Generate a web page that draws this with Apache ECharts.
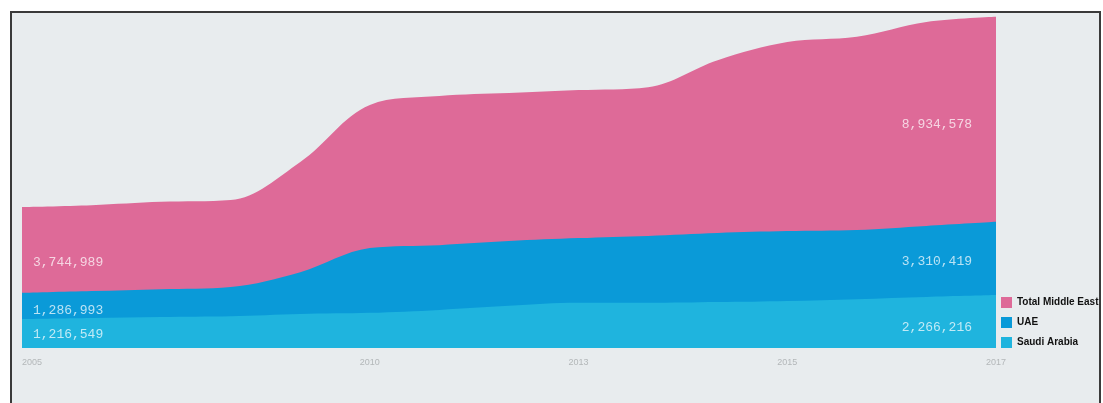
<!DOCTYPE html>
<html lang="en">
<head>
    <meta charset="UTF-8">
    <script src="https://cdn.jsdelivr.net/npm/echarts@6/dist/echarts.min.js"></script>
    <style>
        body { margin: 0; background: #fff; }
        #frame {
            position: absolute; left: 10px; top: 11px; width: 1087px; height: 400px;
            border: 2px solid #3a3a3a; border-bottom: none; background: #e8ecee;
        }
        #chart { position: absolute; left: 0; top: 0; width: 1103px; height: 403px; }
    </style>
</head>
<body>
<div id="frame"></div>
<div id="chart"></div>
<script>
    // x slots (label only on some of them)
    var slots = ['0', '1', '2', '3', '4', '5', '6', '7', '8', '9', '10', '11', '12', '13', '14'];
    var tickLabels = {0: '2005', 5: '2010', 8: '2013', 11: '2015', 14: '2017'};

    // millions (top edge of each coloured band)
    var totalME = [3.81, 3.86, 3.95, 4.00, 5.03, 6.57, 6.81, 6.89, 6.97, 7.05, 7.78, 8.27, 8.41, 8.81, 8.95];
    var uae = [1.49, 1.54, 1.59, 1.65, 2.05, 2.70, 2.78, 2.89, 2.97, 3.03, 3.11, 3.16, 3.19, 3.30, 3.41];
    var saudi = [0.78, 0.81, 0.84, 0.86, 0.92, 0.95, 1.03, 1.14, 1.22, 1.22, 1.24, 1.27, 1.32, 1.38, 1.43];

    var startLabels = ['3,744,989', '1,286,993', '1,216,549'];
    var endLabels = ['8,934,578', '3,310,419', '2,266,216'];

    var names = ['Total Middle East', 'UAE', 'Saudi Arabia'];
    var colors = ['#de6a98', '#0a9ad8', '#1fb4de'];

    var mycharts = echarts.init(document.getElementById('chart'));

    function bandMarks(idx, top, below) {
        var last = top.length - 1;
        var startOff = [[11, 13], [11, 5], [11, 1]];
        var endOff = [[-24, 5], [-24, 3], [-24, 6]];
        var lbl = {
            show: true,
            color: 'rgba(255,255,255,0.72)',
            fontFamily: 'Liberation Mono',
            fontSize: 13,
            verticalAlign: 'middle'
        };
        return {
            symbol: 'circle',
            symbolSize: 0,
            silent: true,
            data: [{
                coord: [0, (top[0] + below[0]) / 2],
                label: Object.assign({}, lbl, {position: startOff[idx], align: 'left', formatter: startLabels[idx]})
            }, {
                coord: [last, (top[last] + below[last]) / 2],
                label: Object.assign({}, lbl, {position: endOff[idx], align: 'right', formatter: endLabels[idx]})
            }]
        };
    }

    var zeros = saudi.map(function () { return 0; });
    var layers = [totalME, uae, saudi];
    var belows = [uae, saudi, zeros];

    var series = layers.map(function (d, i) {
        return {
            name: names[i],
            type: 'line',
            data: d,
            smooth: 0.35,
            symbol: 'none',
            z: 2 + i,
            lineStyle: {width: 0},
            itemStyle: {color: colors[i]},
            areaStyle: {color: colors[i], opacity: 1},
            markPoint: bandMarks(i, d, belows[i])
        };
    });

    option = {
        animation: false,
        grid: {left: 22, right: 107, top: 15, bottom: 55},
        legend: {
            orient: 'vertical',
            left: 1001,
            top: 297,
            padding: 0,
            itemWidth: 11,
            itemHeight: 11,
            itemGap: 9,
            icon: 'rect',
            textStyle: {color: '#111', fontSize: 10, fontWeight: 'bold', fontFamily: 'Liberation Sans'},
            data: names
        },
        xAxis: {
            type: 'category',
            boundaryGap: false,
            data: slots,
            axisLine: {show: false},
            axisTick: {show: false},
            splitLine: {show: false},
            axisLabel: {
                color: '#b3b7b9',
                fontSize: 9,
                margin: 10,
                alignMinLabel: 'left',
                interval: function (i) { return tickLabels[i] !== undefined; },
                formatter: function (v, i) { return tickLabels[i] || ''; }
            }
        },
        yAxis: {
            type: 'value',
            min: 0,
            max: 9,
            show: false,
            splitLine: {show: false}
        },
        series: series
    };

    mycharts.setOption(option);
</script>
</body>
</html>
